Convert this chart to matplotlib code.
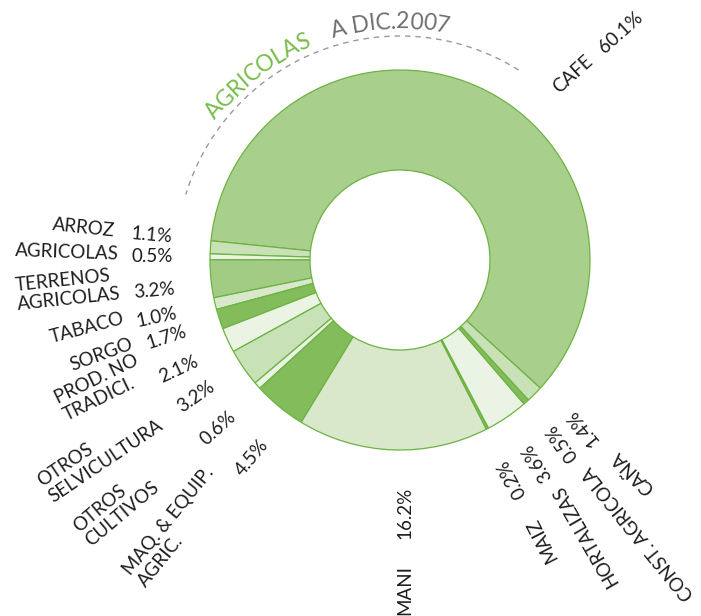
import numpy as np
import matplotlib.pyplot as plt
from matplotlib.font_manager import FontProperties

W, H = 701, 616

# sectors and their share of agricultural credit (%)
sectors = ["CAFE", "ARROZ", "AGRICOLAS", "TERRENOS\nAGRICOLAS", "TABACO", "SORGO",
           "PROD. NO\nTRADICI.", "OTROS\nSELVICULTURA", "OTROS\nCULTIVOS",
           "MAQ. & EQUIP.\nAGRIC.", "MANI", "MAIZ", "HORTALIZAS", "CONST. AGRICOLA", "CAÑA"]
shares = [60.1, 1.1, 0.5, 3.2, 1.0, 1.7, 2.1, 3.2, 0.6, 4.5, 16.2, 0.2, 3.6, 0.5, 1.4]

title_green = "AGRICOLAS"
title_gray = "A DIC.2007"

# colours
sector_colors = ["#a9cf8c", "#c9e1b7", "#ebf3e5", "#a2cb84", "#d9e8cc", "#83bc5a",
                 "#ebf3e5", "#c9e1b7", "#ebf3e5", "#83bc5a", "#d9e7cb", "#83bc5a",
                 "#ebf3e5", "#83bc5a", "#c9e1b7"]
EDGE = "#6cb341"
TXT = "#1e1e1e"

# label layout: x, y (pixels from top-left), rotation
name_pos = [(573, 74, 42), (84, 228, -6), (67, 252, -2), (68, 290, 6), (87, 328, 15),
            (101, 355, 20), (101, 388, 26), (100, 453, 34), (116, 507, 40),
            (176, 527, 51), (405, 590, 90), (542, 540, 117), (585, 535, 120),
            (639, 533, 129), (633, 472, 135)]
pct_pos = [(621, 32, 42), (152, 235, -5), (152, 256, 0), (154, 291, 5), (157, 317, 12),
           (166, 337, 18), (179, 369, 25), (196, 397, 35), (218, 428, 42),
           (252, 458, 50), (405, 513, 90), (512, 479, 119), (537, 462, 122),
           (562, 442, 126), (582, 427, 129)]

CX, CY = 400, 260      # donut centre (pixels from top)
R_OUT, R_IN = 190, 90

font = dict(family=["Lato", "DejaVu Sans"])

fig = plt.figure(figsize=(W / 100, H / 100), dpi=100)
ax = fig.add_axes([0, 0, 1, 1])
ax.pie(shares, colors=sector_colors, startangle=-42.4, counterclock=True,
       center=(CX, H - CY), radius=R_OUT,
       wedgeprops=dict(width=R_OUT - R_IN, edgecolor=EDGE, linewidth=0.9))
ax.set_xlim(0, W)
ax.set_ylim(0, H)
ax.set_aspect("equal")
ax.axis("off")

for name, (x, y, rot) in zip(sectors, name_pos):
    ax.text(x, H - y, name, rotation=rot, ha="center", va="center",
            multialignment="left", fontsize=13.5, color=TXT, linespacing=1.15, **font)
for v, (x, y, rot) in zip(shares, pct_pos):
    ax.text(x, H - y, f"{v:.1f}%", rotation=rot, ha="center", va="center",
            fontsize=13.5, color=TXT, **font)

# dashed arc above the donut
t = np.radians(np.linspace(58, 163, 200))
ax.plot(CX + 224 * np.cos(t), H - CY + 224 * np.sin(t), color="#9a9a9a",
        lw=1.0, ls=(0, (4, 3.5)))

# curved title
fig.canvas.draw()
rend = fig.canvas.get_renderer()
fp = FontProperties(family=["Lato", "DejaVu Sans"], size=16.5)


def ink_w(s):
    return rend.get_text_width_height_descent(s, fp, ismath=False)[0]


full = title_green + "    " + title_gray
colors_t = ["#77bd4b"] * len(title_green) + [None] * 4 + ["#6e6e6e"] * len(title_gray)
r_t = 238
theta0 = np.radians(141)
first_c = ink_w(full[0]) / 2
for i, ch in enumerate(full):
    if ch == " ":
        continue
    d = ink_w(full[:i + 1].replace(" ", "\u00a0")) - ink_w(ch) / 2 - first_c
    th = theta0 - d / r_t
    ax.text(CX + r_t * np.cos(th), H - CY + r_t * np.sin(th), ch,
            rotation=np.degrees(th) - 90, rotation_mode="anchor",
            ha="center", va="center", fontproperties=fp, color=colors_t[i])

fig.savefig("out.png", dpi=100)
